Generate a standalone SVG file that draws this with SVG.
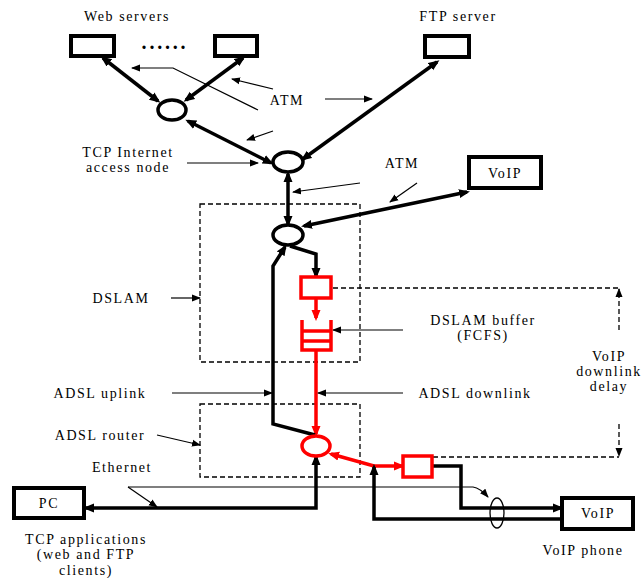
<svg xmlns="http://www.w3.org/2000/svg" width="644" height="578" viewBox="0 0 644 578">
<defs>
<marker id="ah" markerUnits="userSpaceOnUse" markerWidth="12" markerHeight="10" refX="8" refY="4.5" orient="auto-start-reverse" viewBox="0 0 12 9"><path d="M0,0 L11,4.5 L0,9 z" fill="#000"/></marker>
<marker id="ahr" markerUnits="userSpaceOnUse" markerWidth="12" markerHeight="10" refX="8" refY="4.5" orient="auto-start-reverse" viewBox="0 0 12 9"><path d="M0,0 L11,4.5 L0,9 z" fill="#f00"/></marker>
<marker id="at" markerUnits="userSpaceOnUse" markerWidth="10" markerHeight="8" refX="8" refY="3.5" orient="auto-start-reverse" viewBox="0 0 10 7"><path d="M0,0 L9,3.5 L0,7 z" fill="#000"/></marker>
</defs>
<style>
text{font-family:"Liberation Serif","Times New Roman",serif;font-size:14px;letter-spacing:1.6px;fill:#000;text-anchor:middle}
.box{fill:#fff;stroke:#000;stroke-width:4}
.node{fill:#fff;stroke:#000;stroke-width:3.5}
.rnode{fill:#fff;stroke:#f00;stroke-width:3.5}
.thick{fill:none;stroke:#000;stroke-width:3.5}
.rthick{fill:none;stroke:#f00;stroke-width:3.5}
.thin{fill:none;stroke:#000;stroke-width:1.2}
.dash{fill:none;stroke:#000;stroke-width:1.3;stroke-dasharray:5 3}
.thickA{marker-end:url(#ah)}
.dbl{marker-start:url(#ah);marker-end:url(#ah)}
.rA{marker-end:url(#ahr)}
.rdbl{marker-start:url(#ahr);marker-end:url(#ahr)}
.tA{marker-end:url(#at)}
</style>
<rect width="644" height="578" fill="#fff"/>

<g id="labels">
<text x="127" y="21">Web servers</text>
<text x="458" y="21">FTP server</text>
<text x="287" y="105">ATM</text>
<text x="128" y="157">TCP Internet</text>
<text x="128" y="172">access node</text>
<text x="402" y="168">ATM</text>
<text x="121" y="303">DSLAM</text>
<text x="483" y="325">DSLAM buffer</text>
<text x="483" y="340">(FCFS)</text>
<text x="609" y="361">VoIP</text>
<text x="609" y="376">downlink</text>
<text x="609" y="391">delay</text>
<text x="100" y="398">ADSL uplink</text>
<text x="475" y="398">ADSL downlink</text>
<text x="100" y="440">ADSL router</text>
<text x="122" y="472">Ethernet</text>
<text x="86" y="544">TCP applications</text>
<text x="86" y="559">(web and FTP</text>
<text x="86" y="575">clients)</text>
<text x="583" y="555">VoIP phone</text>
<text x="165" y="49" style="font-size:20px;font-weight:bold;letter-spacing:2.8px">......</text>
</g>

<g id="groups">
<rect class="dash" x="200" y="204" width="160" height="158"/>
<rect class="dash" x="200" y="404" width="160" height="73"/>
</g>

<g id="connectors">
<line class="thick dbl" x1="103" y1="58" x2="158" y2="101"/>
<line class="thick dbl" x1="243" y1="58" x2="186" y2="100"/>
<line class="thick dbl" x1="188" y1="121" x2="271" y2="163"/>
<line class="thick dbl" x1="437" y1="62" x2="303" y2="159"/>
<line class="thick dbl" x1="288" y1="174" x2="288" y2="224"/>
<line class="thick dbl" x1="467" y1="192" x2="304" y2="226"/>
<path class="thick thickA" d="M290,246 L316,254 L316,276"/>
<line class="rthick rA" x1="316" y1="299" x2="316" y2="318"/>
<line class="rthick rA" x1="316" y1="351" x2="316" y2="434"/>
<path class="thick thickA" d="M315,435 L273,424 L273,266 L285,247"/>
<path class="rthick rdbl" d="M331,454 L374,466 L402,466"/>
<path class="thick thickA" d="M433,466 L461,466 L461,508 L561,508"/>
<path class="thick thickA" d="M561,519 L374,519 L374,467"/>
<path class="thick dbl" d="M86,508 L316,508 L316,457"/>

<line class="thin tA" x1="325" y1="99" x2="372" y2="99"/>
<line class="thin tA" x1="273" y1="89" x2="232" y2="79"/>
<polyline class="thin tA" points="258,110 173,68 132,68"/>
<line class="thin tA" x1="273" y1="131" x2="247" y2="140"/>
<line class="thin tA" x1="187" y1="163" x2="258" y2="163"/>
<line class="thin tA" x1="360" y1="183" x2="293" y2="192"/>
<line class="thin tA" x1="417" y1="183" x2="390" y2="202"/>
<line class="thin tA" x1="171" y1="298" x2="200" y2="298"/>
<line class="thin tA" x1="403" y1="330" x2="333" y2="330"/>
<line class="thin tA" x1="172" y1="393" x2="272" y2="393"/>
<line class="thin tA" x1="403" y1="393" x2="318" y2="393"/>
<line class="thin tA" x1="157" y1="435" x2="200" y2="445"/>
<line class="thin tA" x1="128" y1="487" x2="157" y2="507"/>
<path class="thin tA" d="M128,487 L473,487 Q480,488 488,497"/>

<path class="dash" d="M333,288 L619,288"/>
<line class="dash tA" x1="619" y1="330" x2="619" y2="289"/>
<path class="dash" d="M433,457 L619,457"/>
<line class="dash tA" x1="619" y1="424" x2="619" y2="456"/>
</g>

<g id="web1"><rect class="box" x="71" y="36" width="43" height="20"/></g>
<g id="web2"><rect class="box" x="215" y="36" width="42" height="20"/></g>
<g id="ftp"><rect class="box" x="425" y="36" width="44" height="21"/></g>
<g id="atm-switch"><ellipse class="node" cx="172" cy="110" rx="14" ry="10"/></g>
<g id="access-node"><ellipse class="node" cx="288" cy="162" rx="15" ry="10"/></g>
<g id="dslam-node"><ellipse class="node" cx="288" cy="235" rx="15" ry="10"/></g>
<g id="voip-server"><rect class="box" x="469" y="157" width="72" height="31"/><text x="505" y="178">VoIP</text></g>
<g id="red-box1"><rect class="rnode" x="301" y="277" width="30" height="21"/></g>
<g id="buffer"><path class="rthick" d="M302,320 L302,350 L331,350 L331,320 M302,331 L331,331 M302,341 L331,341"/></g>
<g id="router"><ellipse class="rnode" cx="316" cy="446" rx="14" ry="10"/></g>
<g id="red-box2"><rect class="rnode" x="403" y="456" width="29" height="21"/></g>
<g id="cable"><ellipse cx="497" cy="513" rx="7" ry="15" fill="none" stroke="#000" stroke-width="1.3"/></g>
<g id="pc"><rect class="box" x="14" y="488" width="70" height="30"/><text x="49" y="508">PC</text></g>
<g id="voip-phone"><rect class="box" x="562" y="498" width="71" height="31"/><text x="598" y="518">VoIP</text></g>
</svg>
